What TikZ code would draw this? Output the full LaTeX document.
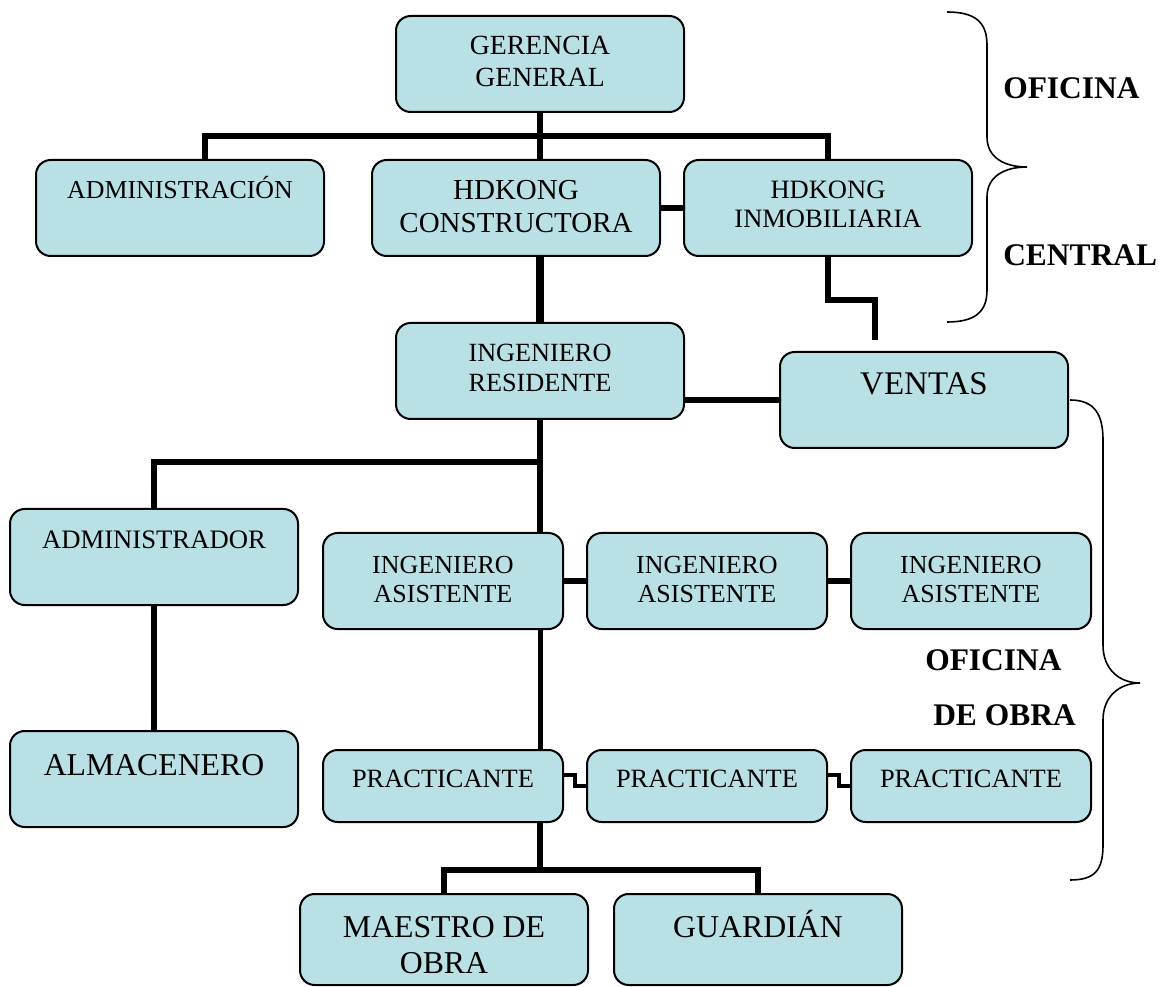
\documentclass[tikz,border=0pt]{standalone}
\usepackage{fontspec}
\setmainfont{Liberation Serif}
\usetikzlibrary{positioning,calc,backgrounds}

\definecolor{boxfill}{RGB}{185,224,228}

% box of fixed size, text set from the top
\tikzset{
    orgbox/.style n args={3}{
        draw,
        fill=boxfill,
        line width=1.5pt,
        rounded corners=11pt,
        inner sep=0pt,
        outer sep=0pt,
        anchor=north west,
        execute at begin node={\begin{minipage}[c][#2][t]{#1}\centering\rule{0pt}{#3}},
        execute at end node={\end{minipage}}
    }
}

\begin{document}
\begin{tikzpicture}[
    x=0.75pt, y=-0.75pt,
    bigbox/.style={orgbox={216pt}{72pt}{#1}},
    smallbox/.style={orgbox={180pt}{72pt}{#1}},
    praxbox/.style={orgbox={180pt}{54pt}{#1}},
    basebox/.style={orgbox={216pt}{68.25pt}{#1}},
    link/.style={line width=4.5pt},
    thick link/.style={line width=6pt},
    mid link/.style={line width=3.75pt},
    step link/.style={line width=3pt},
    brace/.style={line width=1.2pt},
    side/.style={font=\bfseries\fontsize{23.6}{28}\selectfont, anchor=base west, inner sep=0pt}
]
\useasboundingbox (0,0) rectangle (1161,987);

% oficina central
\node[bigbox=29.25pt, font=\fontsize{20.8}{24}\selectfont] (ger) at (396,16) {GERENCIA\\GENERAL};
\node[bigbox=29.25pt, font=\fontsize{19.4}{23}\selectfont] (adm) at (36,160) {ADMINISTRACIÓN};
\node[bigbox=30pt, font=\fontsize{21.75}{24.75}\selectfont] (con) at (372,160) {HDKONG\\CONSTRUCTORA};
\node[bigbox=29.25pt, font=\fontsize{19.9}{21.75}\selectfont, right=18pt of con] (inm) {HDKONG\\INMOBILIARIA};

% oficina de obra
\node[bigbox=29.25pt, font=\fontsize{19.7}{22.5}\selectfont] (res) at (396,323) {INGENIERO\\RESIDENTE};
\node[bigbox=32.25pt, font=\fontsize{24.75}{28}\selectfont] (ven) at (780,352) {VENTAS};
\node[bigbox=30pt, font=\fontsize{20}{24}\selectfont] (adr) at (10,509) {ADMINISTRADOR};
\node[bigbox=33pt, font=\fontsize{23.8}{28}\selectfont] (alm) at (10,731) {ALMACENERO};

\node[smallbox=30pt, font=\fontsize{19.5}{21.75}\selectfont] (as1) at (323,533) {INGENIERO\\ASISTENTE};
\node[smallbox=30pt, font=\fontsize{19.5}{21.75}\selectfont, right=18pt of as1] (as2) {INGENIERO\\ASISTENTE};
\node[smallbox=30pt, font=\fontsize{19.5}{21.75}\selectfont, right=18pt of as2] (as3) {INGENIERO\\ASISTENTE};

\node[praxbox=27.75pt, font=\fontsize{19.8}{24}\selectfont] (pr1) at (323,750) {PRACTICANTE};
\node[praxbox=27.75pt, font=\fontsize{19.8}{24}\selectfont, right=18pt of pr1] (pr2) {PRACTICANTE};
\node[praxbox=27.75pt, font=\fontsize{19.8}{24}\selectfont, right=18pt of pr2] (pr3) {PRACTICANTE};

\node[basebox=32.25pt, font=\fontsize{23.85}{27}\selectfont] (mae) at (300,894) {MAESTRO DE\\OBRA};
\node[basebox=32.25pt, font=\fontsize{23.85}{27}\selectfont, right=19.5pt of mae] (gua) {GUARDIÁN};

% side labels
\node[side] (ofc) at (1003,99) {OFICINA};
\node[side] (cen) at (1003,266) {CENTRAL};
\node[side] (ofo) at (925,670) {OFICINA};
\node[side] (obr) at (933,725) {DE OBRA};

\coordinate (topbar) at (540,136);
\coordinate (vgap) at (875,340);
\coordinate (leftbar) at (540,462);
\coordinate (lowbar) at (540,870);

\begin{scope}[on background layer]
\draw[link] (ger.south) -- (ger.south |- con.north);
\draw[link] ($(adm.north)+(25,0)$) |- (topbar) -| (inm.north);
\draw[link] (con.east) -- (inm.west);
\draw[thick link] (ger.south |- con.south) -- (res.north);
\draw[link] (inm.south) -- ++(0,44) -| (vgap);
\draw[link] (res.east |- ven.west) -- (ven.west);

\draw[link] (res.south) -- (res.south |- as1.north);
\draw[link] (adr.north) |- (leftbar);
\draw[link] (adr.south) -- (alm.north);
\draw[link] (as1.east) -- (as2.west);
\draw[link] (as2.east) -- (as3.west);
\draw[mid link] (res.south |- as1.south) -- (res.south |- pr1.north);

\draw[step link] ($(pr1.east)+(0,-11)$) -| ($(pr1.east)!.5!(pr2.west)$) |- (pr2.west);
\draw[step link] ($(pr2.east)+(0,-11)$) -| ($(pr2.east)!.5!(pr3.west)$) |- (pr3.west);

\draw[link] (res.south |- pr1.south) -- (lowbar);
\draw[link] (mae.north) |- (lowbar) -| (gua.north);
\end{scope}

% braces
\draw[brace] (947,12) .. controls (975,12) and (987,22) .. (987,45) -- (987,137)
    .. controls (987,158) and (1005,167) .. (1027,167)
    .. controls (1005,167) and (987,176) .. (987,197) -- (987,290)
    .. controls (987,312) and (975,322) .. (947,322);
\draw[brace] (1070,400) .. controls (1095,400) and (1103,415) .. (1103,440) -- (1103,645)
    .. controls (1103,670) and (1120,683) .. (1140,683)
    .. controls (1120,683) and (1103,696) .. (1103,720) -- (1103,845)
    .. controls (1103,870) and (1095,880) .. (1070,880);

\end{tikzpicture}
\end{document}
